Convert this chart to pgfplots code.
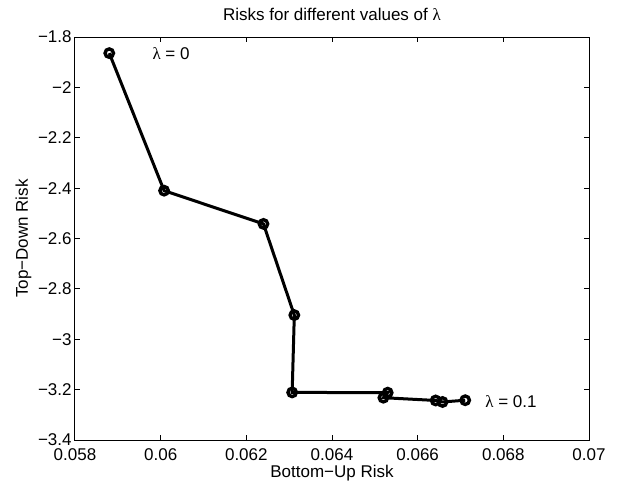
\documentclass[border=0pt]{standalone}
\usepackage{fontspec}
\setmainfont{Liberation Sans}
\newfontfamily\symf{Liberation Serif}
\usepackage{pgfplots}
\pgfplotsset{compat=1.18}
\begin{document}
\fontsize{8.5pt}{10pt}\selectfont
\begin{tikzpicture}
\begin{axis}[
  scale only axis, width=257pt, height=201.5pt,
  xmin=0.058, xmax=0.07, ymin=-3.4, ymax=-1.8,
  xtick={0.058,0.060,0.062,0.064,0.066,0.068,0.070},
  xticklabels={0.058,0.06,0.062,0.064,0.066,0.068,0.07},
  ytick={-3.4,-3.2,-3.0,-2.8,-2.6,-2.4,-2.2,-2.0,-1.8},
  yticklabels={−3.4,−3.2,−3,−2.8,−2.6,−2.4,−2.2,−2,−1.8},
  scaled x ticks=false,
  tick align=inside, xtick pos=both, ytick pos=both,
  major tick length=2.5pt,
  axis line style={line width=0.5pt},
  every tick/.style={black, line width=0.5pt},
  tick label style={font=\fontsize{8.5pt}{10pt}\selectfont},
  xticklabel style={anchor=base, inner sep=0pt, yshift=-10pt},
  yticklabel style={anchor=east, inner sep=0pt, xshift=-1.5pt},
  xlabel={Bottom−Up Risk},
  xlabel style={at={(axis description cs:0.5,-0.092)}, anchor=base, inner sep=0pt},
  ylabel={Top−Down Risk},
  ylabel style={at={(axis description cs:-0.0915,0.5)}, anchor=base, inner sep=0pt},
  clip=false,
]
% risk trade-off as lambda goes from 0 to 0.1
\addplot[black, line width=1.5pt, mark=o, mark size=2.1pt, mark options={solid, line width=1.7pt}]
coordinates {
  (0.05880,-1.864)
  (0.06008,-2.410)
  (0.06240,-2.542)
  (0.06312,-2.904)
  (0.06307,-3.211)
  (0.06530,-3.212)
  (0.06520,-3.232)
  (0.06642,-3.243)
  (0.06658,-3.249)
  (0.06711,-3.242)
};
\node[anchor=west, inner sep=0pt] at (axis cs:0.0598,-1.866) {{\symf λ} = 0};
\node[anchor=west, inner sep=0pt] at (axis cs:0.06757,-3.249) {{\symf λ} = 0.1};
\node[anchor=base, inner sep=0pt] at (axis description cs:0.5,1.042) {Risks for different values of {\symf λ}};
\end{axis}
\pgfresetboundingbox
\path (current axis.south west) ++(-37.5pt,-22pt) rectangle ++(312pt,242pt);
\end{tikzpicture}
\end{document}
